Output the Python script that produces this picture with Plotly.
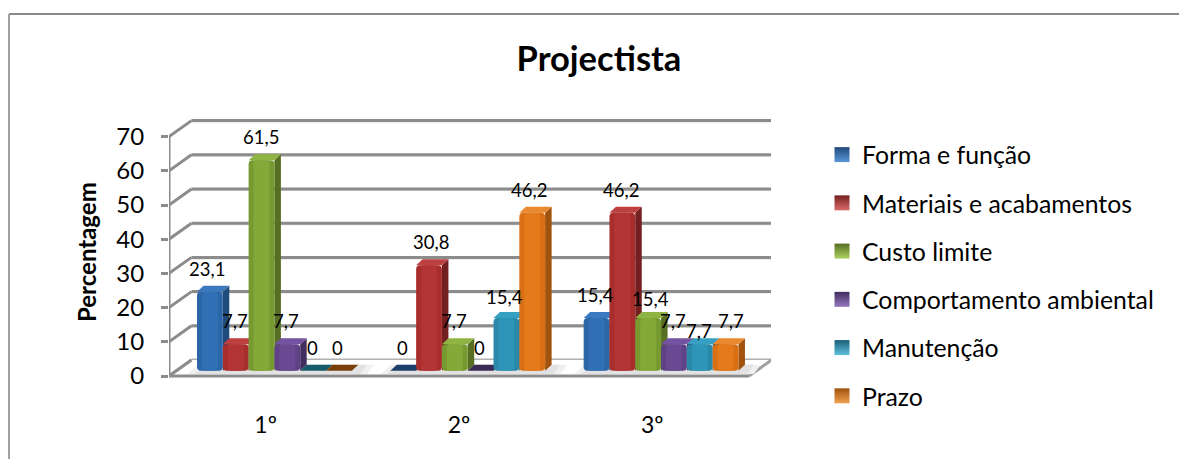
import plotly.graph_objects as go

# Chart data
GROUPS = ["1º", "2º", "3º"]
SERIES = ["Forma e função", "Materiais e acabamentos", "Custo limite",
          "Comportamento ambiental", "Manutenção", "Prazo"]
FORMA = [23.1, 0, 15.4]
MATERIAIS = [7.7, 30.8, 46.2]
CUSTO = [61.5, 7.7, 15.4]
COMPORTAMENTO = [7.7, 0, 7.7]
MANUTENCAO = [0, 15.4, 7.7]
PRAZO = [0, 46.2, 7.7]
VALUES = [FORMA, MATERIAIS, CUSTO, COMPORTAMENTO, MANUTENCAO, PRAZO]
Y_TICKS = [0, 10, 20, 30, 40, 50, 60, 70]

# Face colours: front, inner highlight, side, top, flat (zero height), legend gradient end
FRONT = ["#2b66a8", "#a82e2e", "#769a30", "#5e4285", "#2a88a8", "#d96f14"]
INNER = ["#3270b6", "#b33434", "#84a938", "#694a92", "#2f95b8", "#e47a1c"]
SIDE = ["#1f4a7a", "#752020", "#566f22", "#412d5e", "#1c5f78", "#a0520e"]
TOP = ["#3a78bf", "#bd3f3f", "#8fb444", "#7354a0", "#36a0c2", "#ea8a30"]
FLAT = ["#1c3f6b", "#6b1d1d", "#4c6320", "#3a2a55", "#175a6a", "#7a400c"]
LEG_END = ["#5a96d8", "#dd6a6a", "#aed060", "#9478c0", "#5cc0dc", "#f0a050"]

# Layout of the pseudo-3D box, in pixels
W, H = 1179, 459
M_L, M_R, M_T, M_B = 169, 408, 108, 81
PLOT_W, PLOT_H = W - M_L - M_R, H - M_T - M_B
PX_PER_Y = 3.42
Y_MIN = -2 / PX_PER_Y
Y_MAX = Y_MIN + PLOT_H / PX_PER_Y
PX_PER_X = 193.33
X_MAX = PLOT_W / PX_PER_X
DX, DY = 22.5 / PX_PER_X, 16 / PX_PER_Y      # depth of the box
BDX, BDY = 6.5 / PX_PER_X, 6 / PX_PER_Y      # depth of one bar
BASE = 5.3 / PX_PER_Y                        # bars stand inside the floor
BAR_W = 25.8 / PX_PER_X
BAR_START = 28 / PX_PER_X
GRID = "#8c8c8c"

# Small nudges of crowded value labels: (group, series) -> (x px, y px)
LABEL_NUDGE = {(2, 2): (3, 4), (2, 4): (0, 10), (2, 5): (6, 0), (0, 0): (-2, 0),
               (1, 5): (-2, 0), (1, 1): (3, 0), (1, 4): (-1, 2)}


def paper_x(px):
    return (px - M_L) / PLOT_W


def paper_y(py):
    return (H - M_B - py) / PLOT_H


def poly(points):
    return "M " + " L ".join(f"{x},{y}" for x, y in points) + " Z"


def line(x0, y0, x1, y1, color=GRID, width=3):
    return dict(type="line", x0=x0, y0=y0, x1=x1, y1=y1, xref="x", yref="y",
                layer="below", line=dict(color=color, width=width))


def bar_x(g, s):
    return g + BAR_START + (s + 0.5) * BAR_W


shapes = []

# Back wall grid and the slanted lines of the side wall
for v in Y_TICKS:
    shapes.append(line(DX, v + DY - 1 / PX_PER_Y, 3 + DX, v + DY - 1 / PX_PER_Y, "#dcdcdc", 2))
    shapes.append(line(DX, v + DY, 3 + DX, v + DY, GRID if v else "#b0b0b0", 3))
    shapes.append(line(0, v, DX, v + DY))
shapes.append(line(0, 0, 0, Y_TICKS[-1]))

# Floor
shapes.append(dict(type="path", xref="x", yref="y", layer="below", line=dict(width=0),
                   fillcolor="white",
                   path=poly([(0, 0), (DX, DY), (3 + DX, DY), (3, 0)])))
shapes.append(line(0, 0, DX, DY))
shapes.append(line(0, 0, 3, 0))
shapes.append(line(3, 0, 3 + DX, DY, "#a0a0a0", 3))

# Soft shadows of each bar group on the floor
for g in range(len(GROUPS)):
    x0, x1 = g + BAR_START - 0.05, g + BAR_START + 6 * BAR_W + 0.08
    for pad, col in ((0.0, "#f0f0f0"), (0.035, "#e2e2e2")):
        shapes.append(dict(type="path", xref="x", yref="y", layer="below",
                           line=dict(width=0), fillcolor=col,
                           path=poly([(x0 + pad, BASE * 0.4), (x0 + pad + BDX * 1.6, BASE + BDY),
                                      (x1 - pad + BDX, BASE + BDY), (x1 - pad, BASE * 0.4)])))

# Side and top faces of the bars, computed from the values
for s, vals in enumerate(VALUES):
    for g, v in enumerate(vals):
        xl = bar_x(g, s) - BAR_W / 2
        xr = xl + BAR_W
        top = BASE + v
        if v > 0:
            shapes.append(dict(type="path", xref="x", yref="y", layer="below",
                               line=dict(width=0), fillcolor=SIDE[s],
                               path=poly([(xr, BASE), (xr + BDX, BASE + BDY),
                                          (xr + BDX, top + BDY), (xr, top)])))
        shapes.append(dict(type="path", xref="x", yref="y", layer="below",
                           line=dict(width=0), fillcolor=TOP[s] if v > 0 else FLAT[s],
                           path=poly([(xl, top), (xl + BDX, top + BDY),
                                      (xr + BDX, top + BDY), (xr, top)])))

# Outer frame of the chart (open on the right and at the bottom of the page)
shapes.append(dict(type="line", xref="paper", yref="paper", x0=paper_x(9), x1=paper_x(W),
                   y0=paper_y(14), y1=paper_y(14), line=dict(color="#8a8a8a", width=2)))
shapes.append(dict(type="line", xref="paper", yref="paper", x0=paper_x(9), x1=paper_x(9),
                   y0=paper_y(14), y1=paper_y(H), line=dict(color="#a0a0a0", width=2)))

fig = go.Figure()

# Front faces
for s, (name, vals) in enumerate(zip(SERIES, VALUES)):
    xs = [bar_x(g, s) for g in range(len(GROUPS))]
    fig.add_trace(go.Bar(x=xs, y=vals, base=[BASE] * len(vals), width=BAR_W, name=name,
                         marker=dict(color=FRONT[s], line=dict(width=0)),
                         legendgroup=name, showlegend=False, hoverinfo="name+y"))
for s, (name, vals) in enumerate(zip(SERIES, VALUES)):
    xs = [bar_x(g, s) for g in range(len(GROUPS))]
    fig.add_trace(go.Bar(x=xs, y=vals, base=[BASE] * len(vals), width=BAR_W * 0.62, name=name,
                         marker=dict(color=INNER[s], line=dict(width=0)),
                         legendgroup=name, showlegend=False, hoverinfo="skip"))

# Legend entries with shaded square keys
for s, name in enumerate(SERIES):
    fig.add_trace(go.Scatter(x=[None], y=[None], mode="markers", name=name, legendgroup=name,
                             marker=dict(symbol="square", size=15, color=SIDE[s],
                                         gradient=dict(type="vertical", color=LEG_END[s]),
                                         line=dict(width=0))))

# Value labels above the bars
annotations = []
for s, vals in enumerate(VALUES):
    for g, v in enumerate(vals):
        nx, ny = LABEL_NUDGE.get((g, s), (0, 0))
        annotations.append(dict(x=bar_x(g, s), y=BASE + v, xref="x", yref="y",
                                text=f"{v:g}".replace(".", ","), showarrow=False,
                                xshift=nx - 1, yshift=23 - ny, yanchor="middle",
                                font=dict(size=18.5, color="black")))

# Vertical axis title, centred on the whole box rather than the plot area
annotations.append(dict(x=paper_x(86), y=paper_y(252), xref="paper", yref="paper",
                        text="<b>Percentagem</b>", textangle=-90, showarrow=False,
                        xanchor="center", yanchor="middle", font=dict(size=24, color="black")))

fig.update_layout(
    width=W, height=H, autosize=False,
    margin=dict(l=M_L, r=M_R, t=M_T, b=M_B, pad=0),
    paper_bgcolor="white", plot_bgcolor="white",
    font=dict(family="Lato", color="black"),
    barmode="overlay", barcornerradius=4,
    shapes=shapes, annotations=annotations,
    title=dict(text="<b>Projectista</b>", x=599 / W, y=1 - 59 / H, xanchor="center",
               yanchor="middle", xref="container", yref="container",
               font=dict(size=34.5, color="black")),
    xaxis=dict(range=[0, X_MAX], tickvals=[g + 0.5 for g in range(len(GROUPS))],
               ticktext=GROUPS, showgrid=False, zeroline=False, showline=False,
               ticks="", ticklabelstandoff=31, tickfont=dict(size=23)),
    yaxis=dict(range=[Y_MIN, Y_MAX], tickvals=Y_TICKS, showgrid=False, zeroline=False,
               showline=False, ticks="outside", ticklen=7, tickwidth=3, tickcolor=GRID,
               ticklabelstandoff=12, tickfont=dict(size=24)),
    legend=dict(x=paper_x(822), y=paper_y(132), xanchor="left", yanchor="top",
                font=dict(size=24.8), tracegroupgap=13, itemwidth=30, maxheight=420,
                bgcolor="rgba(0,0,0,0)"),
    hovermode="closest",
)

fig.write_html("out.html")
